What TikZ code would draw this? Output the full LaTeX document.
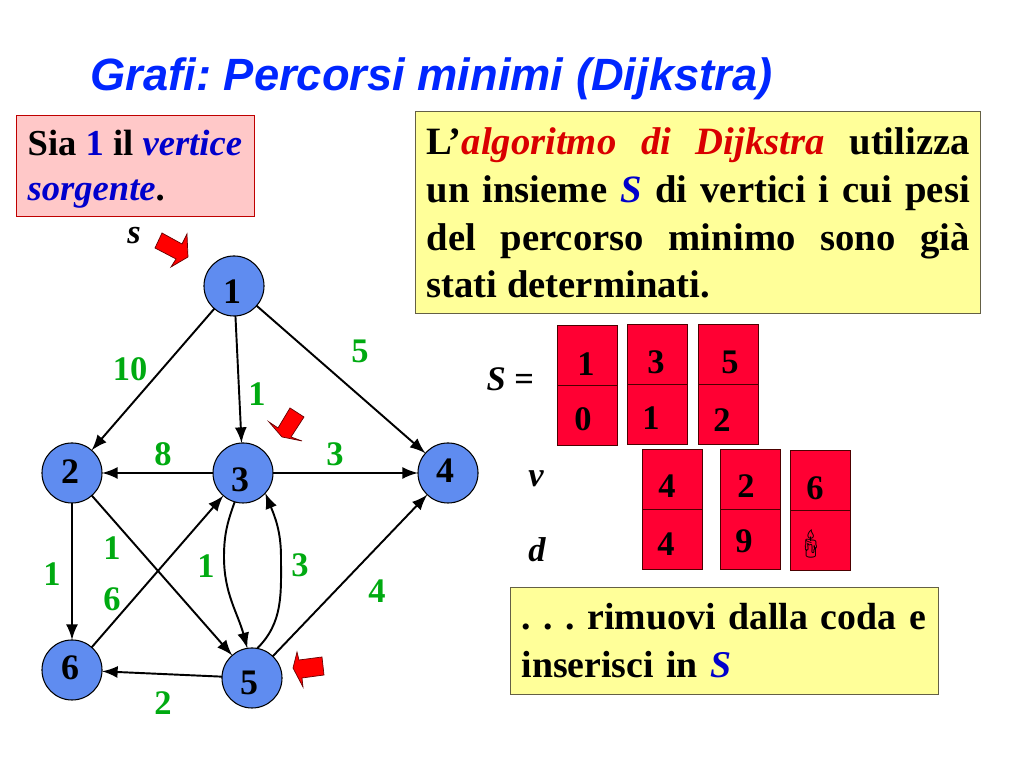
\documentclass[tikz,border=0pt]{standalone}
\usepackage{fontspec}
\setmainfont{Liberation Serif}
\setsansfont{Liberation Sans}
\newfontfamily\candlefont{Noto Emoji}
\definecolor{nodeblue}{HTML}{5F8CF0}
\definecolor{weightgreen}{HTML}{00AA11}
\definecolor{cardred}{HTML}{FF0033}
\definecolor{notepink}{HTML}{FFC8C8}
\definecolor{noteyellow}{HTML}{FFFF99}
\definecolor{textblue}{HTML}{0000CC}
\tikzset{
	vertex/.style={circle,draw=black,fill=nodeblue,line width=.3pt,minimum size=.6cm,inner sep=0pt,outer sep=0pt},
	vertexnum/.style={font=\fontsize{10.2}{10}\selectfont\bfseries,inner sep=0pt},
	weight/.style={font=\fontsize{9.8}{10}\selectfont\bfseries,text=weightgreen,inner sep=0pt},
	edge/.style={-latex,line width=.55pt,black},
	card/.style={rectangle,draw=black!70!red,fill=cardred,line width=.3pt,minimum width=.6cm,minimum height=1.2cm,inner sep=0pt},
	cardnum/.style={font=\fontsize{9.8}{10}\selectfont\bfseries,inner sep=0pt},
	mathlabel/.style={font=\fontsize{9.8}{10}\selectfont\bfseries\itshape,inner sep=0pt},
	redarrow/.style={draw=black!60!red,fill=red,line width=.2pt},
	note/.style={rectangle,line width=.3pt,inner sep=0pt,anchor=north west,font=\fontsize{11}{13.6}\selectfont\bfseries\frenchspacing},
	noteline/.style={anchor=base west,inner sep=0pt,font=\fontsize{10.4}{10}\selectfont\bfseries}
}
\begin{document}
\begin{tikzpicture}[x=.01cm,y=-.01cm]
	\useasboundingbox (0,0) rectangle (1024,768);
	% title
	\node(title) [anchor=base west,inner sep=0pt,text=blue!85!cyan,font=\fontsize{12.87}{14}\selectfont\sffamily\bfseries\itshape\frenchspacing] at (90,91) {Grafi: Percorsi minimi (Dijkstra)};
	% notes
	\node(source) [note,draw=red!75!black,fill=notepink,minimum width=2.38cm,minimum height=1.01cm] at (16,115) {};
	\node(sourcea) [noteline] at (27,156) {Sia {\color{textblue}1} il {\color{textblue}\itshape vertice}};
	\node(sourceb) [noteline] at (27,201) {{\color{textblue}\itshape sorgente}.};
	\node(algo) [note,draw=black!70!yellow,fill=noteyellow,minimum width=5.65cm,minimum height=2.02cm] at (415,111) {};
	\node(algotext) [note,text width=5.43cm,align=justify] at (426,127) {L'{\color{red!85!black}\itshape algoritmo di Dijkstra} utilizza\linebreak un insieme {\color{textblue}\itshape S} di vertici i cui pesi\linebreak del percorso minimo sono già\linebreak stati determinati.};
	\node(queue) [note,draw=black!70!yellow,fill=noteyellow,minimum width=4.28cm,minimum height=1.07cm] at (510,587) {};
	\node(queuetext) [note,text width=4.1cm,align=left,font=\fontsize{10.75}{13.6}\selectfont\bfseries\frenchspacing] at (521,603) {. . . rimuovi dalla coda e\\inserisci in {\color{textblue}\itshape S}};
	% graph
	\node(n1) [vertex] at (234,286) {};
	\node(n2) [vertex] at (72,473) {};
	\node(n3) [vertex] at (243,473) {};
	\node(n4) [vertex] at (448,473) {};
	\node(n5) [vertex] at (252,678) {};
	\node(n6) [vertex] at (72,670) {};
	\node(l1) [vertexnum] at (232,292) {1};
	\node(l2) [vertexnum] at (70,472) {2};
	\node(l3) [vertexnum] at (240,480) {3};
	\node(l4) [vertexnum] at (445,471) {4};
	\node(l5) [vertexnum] at (249,683) {5};
	\node(l6) [vertexnum] at (70,668) {6};
	\draw[edge] (n1) -- (n2);
	\draw[edge] (n1) -- (n3);
	\draw[edge] (n1) -- (n4);
	\draw[edge] (n3) -- (n2);
	\draw[edge] (n3) -- (n4);
	\draw[edge] (n2) -- (n6);
	\draw[edge] (n2) -- (n5);
	\draw[edge] (n6) -- (n3);
	\draw[edge] (n5) -- (n4);
	\draw[edge] (n5) -- (n6);
	\coordinate(c35) at (224,557);
	\coordinate(c53) at (281,557);
	\draw[edge] (n3.254) to[out=250,in=90] (c35) to[out=270,in=105] (n5.99);
	\draw[edge] (n5.80) to[out=45,in=270] (c53) to[out=90,in=-68] (n3.-42);
	% weights
	\node(w12) [weight] at (130,369) {10};
	\node(w14) [weight] at (360,351) {5};
	\node(w13) [weight] at (257,394) {1};
	\node(w32) [weight] at (163,454) {8};
	\node(w34) [weight] at (335,454) {3};
	\node(w25) [weight] at (112,548) {1};
	\node(w63) [weight] at (112,599) {6};
	\node(w26) [weight] at (52,574) {1};
	\node(w35) [weight] at (206,566) {1};
	\node(w53) [weight] at (300,565) {3};
	\node(w54) [weight] at (377,591) {4};
	\node(w56) [weight] at (163,703) {2};
	% red arrows
	\node(s) [mathlabel] at (134,236) {s};
	\draw[redarrow] (162,233) -- (182,244) -- (187,234) -- (188,257) -- (171,267) -- (176,259) -- (155,248) -- cycle;
	\draw[redarrow] (290,408) -- (304,417) -- (291,437) -- (302,441) -- (282,437) -- (269,422) -- (278,428) -- cycle;
	\draw[redarrow] (322,657) -- (324,675) -- (302,678) -- (303,687) -- (293,668) -- (297,652) -- (299,660) -- cycle;
	% queue cards
	\node(seq) [mathlabel,anchor=base west] at (486,391) {S \textup{=}};
	\node(v) [mathlabel] at (536,479) {v};
	\node(d) [mathlabel] at (537,550) {d};
	\node(c1) [card,anchor=north west] at (557,325) {};
	\node(c2) [card,anchor=north west] at (627,324) {};
	\node(c3) [card,anchor=north west] at (698,324) {};
	\node(c4) [card,anchor=north west] at (642,449) {};
	\node(c5) [card,anchor=north west] at (720,449) {};
	\node(c6) [card,anchor=north west] at (790,450) {};
	\foreach \c in {c1,c2,c3,c4,c5,c6}
		\draw[line width=.3pt,black!70!red] (\c.west) -- (\c.east);
	\node(v1) [cardnum] at (586,364) {1};
	\node(d1) [cardnum] at (583,419) {0};
	\node(v2) [cardnum] at (656,362) {3};
	\node(d2) [cardnum] at (651,418) {1};
	\node(v3) [cardnum] at (730,362) {5};
	\node(d3) [cardnum] at (722,420) {2};
	\node(v4) [cardnum] at (667,486) {4};
	\node(d4) [cardnum] at (666,544) {4};
	\node(v5) [cardnum] at (746,486) {2};
	\node(d5) [cardnum] at (744,541) {9};
	\node(v6) [cardnum] at (815,488) {6};
	\node(d6) [inner sep=0pt,font=\fontsize{8}{10}\selectfont\candlefont] at (811,544) {\symbol{"1F56F}};
\end{tikzpicture}
\end{document}
